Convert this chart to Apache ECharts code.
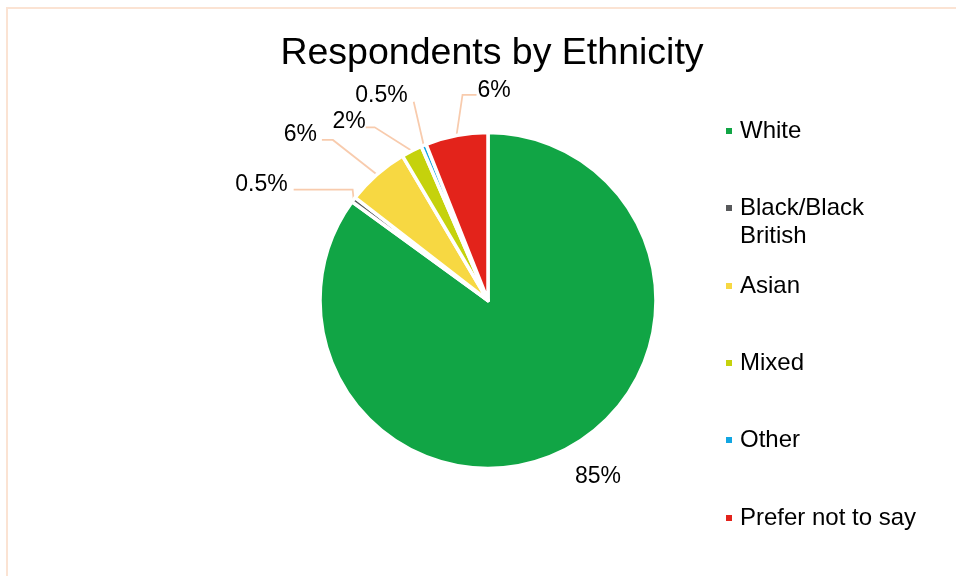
<!DOCTYPE html>
<html>
<head>
<meta charset="utf-8">
<title>Respondents by Ethnicity</title>
<script src="https://cdn.jsdelivr.net/npm/echarts@6/dist/echarts.min.js"></script>
<style>
  html, body { margin: 0; padding: 0; background: #ffffff; }
  #chart { width: 956px; height: 576px; }
</style>
</head>
<body>
<div id="chart"></div>
<script>
// Survey breakdown: share of respondents per ethnic group (percent)
const categories = ['White', 'Black/Black British', 'Asian', 'Mixed', 'Other', 'Prefer not to say'];
const percentages = [85, 0.5, 6, 2, 0.5, 6];
const sliceColors = ['#11A545', '#58595B', '#F7D842', '#C5D20C', '#12A6E2', '#E3231B'];

const FONT = '"Liberation Sans", Arial, Helvetica, sans-serif';
const LEADER_COLOR = '#F8CBAD';

// Leader-line shape for each outside label, relative to the slice edge point:
// elbow offset (ex, ey), horizontal leg length, label side, gap and vertical rise.
const leaders = [
  null,
  { ex: -1, ey: -10, leg: 59, side: -1, gap: 6, rise: 5 },
  { ex: -44, ey: -34.5, leg: 11, side: -1, gap: 5, rise: 5 },
  { ex: -37, ey: -23.5, leg: 9, side: -1, gap: 0, rise: 6 },
  { ex: -10, ey: -43.5, leg: 0, side: -1, gap: 6, rise: 6 },
  { ex: 6, ey: -40.5, leg: 14, side: 1, gap: 1, rise: 4 }
];

// Legend entries sit in one column; each entry is its own legend box.
// The wrapped entry gets an empty first line so its marker lines up with "Black/Black".
const legendTops = [117, 166, 272, 349, 426, 504];
const legendLines = { 'Black/Black British': '\nBlack/Black\nBritish' };

const chart = echarts.init(document.getElementById('chart'), null, { renderer: 'canvas' });

const pieData = categories.map((name, i) => {
  const item = { name: name, value: percentages[i], itemStyle: { color: sliceColors[i] } };
  if (i === 0) {
    item.labelLine = { show: false, length: 28, length2: 0 };
  }
  return item;
});

const legends = categories.map((name, i) => ({
  data: [name],
  orient: 'vertical',
  left: 724,
  top: legendTops[i],
  padding: 0,
  icon: 'rect',
  itemWidth: 8,
  itemHeight: 8,
  selectedMode: false,
  formatter: n => legendLines[n] || n,
  textStyle: {
    fontFamily: FONT,
    fontSize: 24,
    lineHeight: 28,
    color: '#000000',
    padding: [0, 0, 0, 2]
  }
}));

const option = {
  backgroundColor: '#ffffff',
  animation: false,
  title: {
    text: 'Respondents by Ethnicity',
    left: 492,
    top: 35,
    padding: 0,
    textAlign: 'center',
    textStyle: { fontFamily: FONT, fontSize: 37.5, fontWeight: 'normal', color: '#000000' }
  },
  legend: legends,
  graphic: [{
    type: 'rect',
    silent: true,
    shape: { x: 7, y: 8, width: 980, height: 600 },
    style: { fill: 'none', stroke: '#FBE3D3', lineWidth: 2 }
  }],
  series: [{
    type: 'pie',
    center: [488, 300.5],
    radius: 168,
    startAngle: 90,
    clockwise: true,
    avoidLabelOverlap: false,
    data: pieData,
    itemStyle: { borderColor: '#ffffff', borderWidth: 3.5 },
    label: {
      show: true,
      position: 'outside',
      formatter: '{c}%',
      fontFamily: FONT,
      fontSize: 23,
      color: '#000000',
      distanceToLabelLine: 5
    },
    labelLine: {
      show: true,
      length: 20,
      length2: 10,
      lineStyle: { color: LEADER_COLOR, width: 1.75 }
    },
    labelLayout: function (params) {
      const cfg = leaders[params.dataIndex];
      if (!cfg) {
        return { dx: -7, dy: 2 };
      }
      const pts = params.labelLinePoints;
      if (!pts) {
        return {};
      }
      const start = pts[0];
      const elbow = [start[0] + cfg.ex, start[1] + cfg.ey];
      const end = [elbow[0] + cfg.side * cfg.leg, elbow[1]];
      return {
        x: end[0] + cfg.side * cfg.gap,
        y: end[1] - cfg.rise,
        align: cfg.side < 0 ? 'right' : 'left',
        verticalAlign: 'middle',
        labelLinePoints: [start, elbow, end]
      };
    },
    emphasis: { disabled: true }
  }]
};

chart.setOption(option);
</script>
</body>
</html>
